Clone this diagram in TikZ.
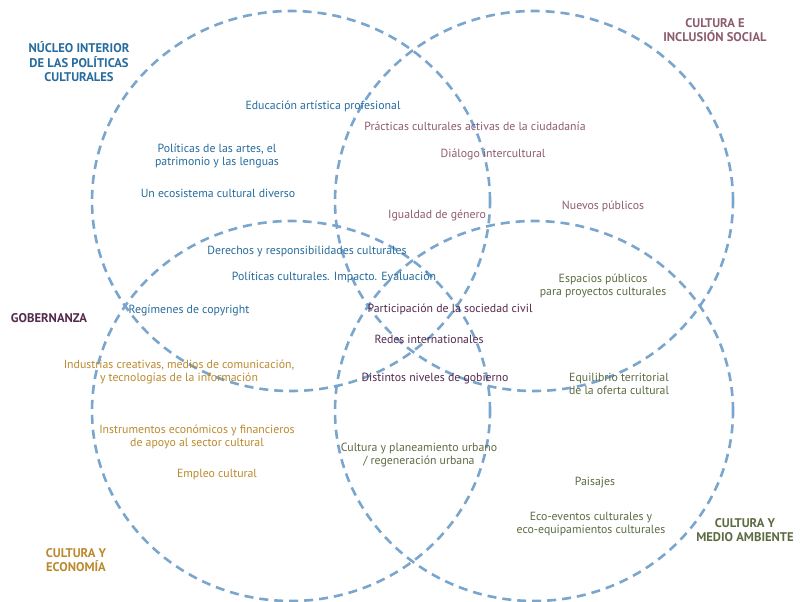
\documentclass[tikz,border=0pt]{standalone}
\usepackage{fontspec}
\setmainfont{PT Sans}
\definecolor{lineblue}{RGB}{122,166,206}
\definecolor{cblue}{RGB}{38,108,158}
\definecolor{cmauve}{RGB}{142,92,112}
\definecolor{cgob}{RGB}{84,42,78}
\definecolor{cocre}{RGB}{188,138,46}
\definecolor{cgreen}{RGB}{92,108,66}
\begin{document}
\begin{tikzpicture}[x=1pt,y=-1pt,
  circ/.style={draw=lineblue,line width=2.6pt,dash pattern=on 9pt off 6pt},
  lbl/.style={inner sep=0pt,align=center,font=\fontsize{11.8}{13.5}\selectfont},
  head/.style={inner sep=0pt,align=center,font=\fontsize{12.6}{14.5}\selectfont\bfseries},
  blu/.style={text=cblue},
  mau/.style={text=cmauve},
  gob/.style={text=cgob},
  ocr/.style={text=cocre},
  grn/.style={text=cgreen}]
\useasboundingbox (0,0) rectangle (803,602);
\fill[white] (0,0) rectangle (803,602);
\draw[circ] (291,201) ellipse [x radius=199pt, y radius=190pt];
\draw[circ] (534,201) ellipse [x radius=199pt, y radius=190pt];
\draw[circ] (291,411) ellipse [x radius=199pt, y radius=190pt];
\draw[circ] (534,411) ellipse [x radius=199pt, y radius=190pt];
% headings
\node[head,blu] (h1) at (79,62) {NÚCLEO INTERIOR\\DE LAS POLÍTICAS\\CULTURALES};
\node[head,mau] (h2) at (715,30) {CULTURA E\\INCLUSIÓN SOCIAL};
\node[head,gob] (h3) at (49,318) {GOBERNANZA};
\node[head,ocr] (h4) at (76,560) {CULTURA Y\\ECONOMÍA};
\node[head,grn] (h5) at (745,530) {CULTURA Y\\MEDIO AMBIENTE};
% blue
\node[lbl,blu] (b1) at (323,106) {Educación artística profesional};
\node[lbl,blu] (b2) at (217,156) {Políticas de las artes, el\\patrimonio y las lenguas};
\node[lbl,blu] (b3) at (218,193) {Un ecosistema cultural diverso};
\node[lbl,blu] (b4) at (307,252) {Derechos y responsibilidades culturales};
\node[lbl,blu] (b5) at (334,277) {Políticas culturales. Impacto. Evaluación};
\node[lbl,blu] (b6) at (189,310) {Regímenes de copyright};
% mauve
\node[lbl,mau] (m1) at (475,126) {Prácticas culturales activas de la ciudadanía};
\node[lbl,mau] (m2) at (493,155) {Diálogo intercultural};
\node[lbl,mau] (m3) at (603,206) {Nuevos públicos};
\node[lbl,mau] (m4) at (437,216) {Igualdad de género};
% governance
\node[lbl,gob] (g1) at (450,309) {Participación de la sociedad civil};
\node[lbl,gob] (g2) at (429,339) {Redes internationales};
\node[lbl,gob] (g3) at (435,379) {Distintos niveles de gobierno};
% ochre
\node[lbl,ocr] (o1) at (179,372) {Industrias creativas, medios de comunicación,\\y tecnologías de la información};
\node[lbl,ocr] (o2) at (197,437) {Instrumentos económicos y financieros\\de apoyo al sector cultural};
\node[lbl,ocr] (o3) at (217,475) {Empleo cultural};
% green
\node[lbl,grn] (e1) at (603,286) {Espacios públicos\\para proyectos culturales};
\node[lbl,grn] (e2) at (619,384) {Equilibrio territorial\\de la oferta cultural};
\node[lbl,grn] (e3) at (419,455) {Cultura y planeamiento urbano\\/ regeneración urbana};
\node[lbl,grn] (e4) at (595,483) {Paisajes};
\node[lbl,grn] (e5) at (591,524) {Eco-eventos culturales y\\eco-equipamientos culturales};
\end{tikzpicture}
\end{document}
